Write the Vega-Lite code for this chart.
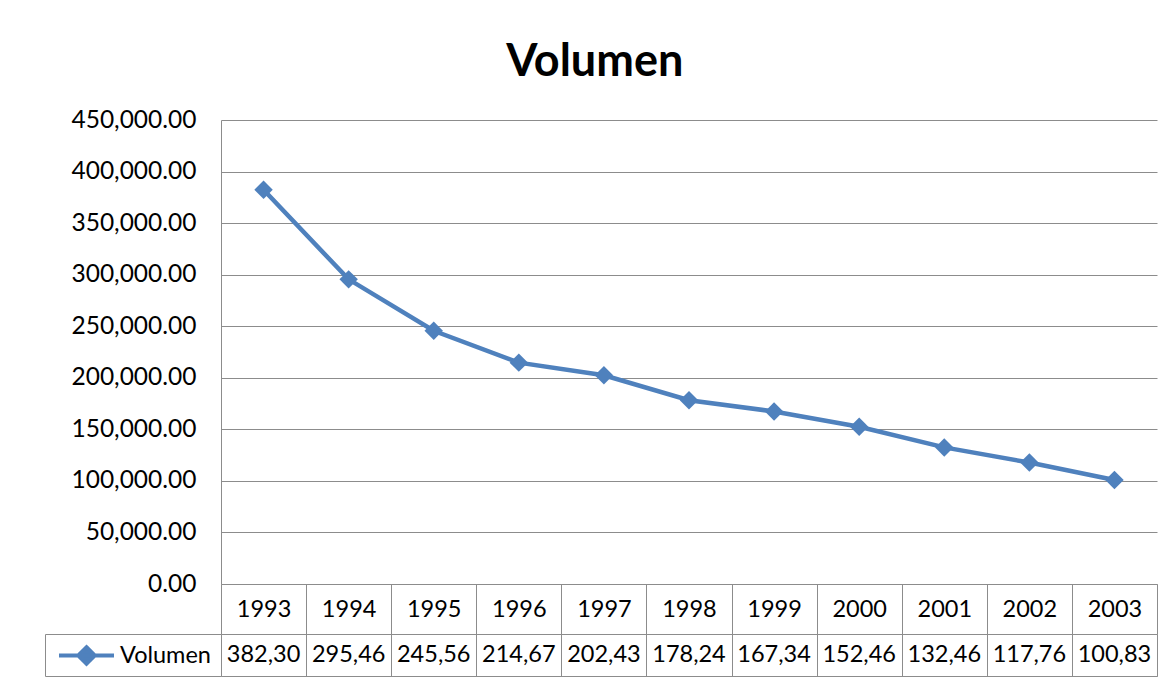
{
  "$schema": "https://vega.github.io/schema/vega-lite/v6.json",
  "background": "white",
  "padding": {"left": 44, "top": 40, "right": 5, "bottom": 5},
  "title": {"text": "Volumen", "font": "Lato", "fontSize": 45, "fontWeight": "bold", "color": "#000000", "anchor": "middle", "dx": -6, "offset": 22},
  "config": {"font": "Lato", "view": {"stroke": null}},
  "datasets": {
    "vol": [
      {"anio": "1993", "volumen": 382300, "tabla": "382,30"},
      {"anio": "1994", "volumen": 295460, "tabla": "295,46"},
      {"anio": "1995", "volumen": 245560, "tabla": "245,56"},
      {"anio": "1996", "volumen": 214670, "tabla": "214,67"},
      {"anio": "1997", "volumen": 202430, "tabla": "202,43"},
      {"anio": "1998", "volumen": 178240, "tabla": "178,24"},
      {"anio": "1999", "volumen": 167340, "tabla": "167,34"},
      {"anio": "2000", "volumen": 152460, "tabla": "152,46"},
      {"anio": "2001", "volumen": 132460, "tabla": "132,46"},
      {"anio": "2002", "volumen": 117760, "tabla": "117,76"},
      {"anio": "2003", "volumen": 100830, "tabla": "100,83"}
    ]
  },
  "bounds": "flush",
  "spacing": 50,
  "resolve": {"scale": {"color": "independent", "x": "independent", "y": "independent"}, "legend": {"color": "independent"}},
  "vconcat": [
    {
      "width": 936,
      "height": 464,
      "data": {"name": "vol"},
      "encoding": {
        "x": {
          "field": "anio", "type": "ordinal",
          "scale": {"type": "band", "paddingInner": 0, "paddingOuter": 0},
          "axis": {"title": null, "labelAngle": 0, "labelFont": "Lato", "labelFontSize": 23.5, "labelColor": "#000000", "labelBaseline": "middle", "labelPadding": -25, "tickBand": "extent", "tickSize": 50, "tickColor": "#8c8c8c", "tickWidth": 1, "domainColor": "#8c8c8c", "domainWidth": 1}
        },
        "y": {
          "field": "volumen", "type": "quantitative",
          "scale": {"domain": [0, 450000], "nice": false, "zero": true},
          "axis": {"title": null, "values": [0, 50000, 100000, 150000, 200000, 250000, 300000, 350000, 400000, 450000], "format": ",.2f", "grid": true, "gridColor": "#8c8c8c", "gridWidth": 1, "gridOpacity": 1, "ticks": false, "labelPadding": 25, "labelFont": "Lato", "labelFontSize": 24.5, "labelColor": "#000000", "domainColor": "#8c8c8c", "domainWidth": 1}
        },
        "color": {
          "datum": "Volumen", "type": "nominal",
          "scale": {"range": ["#4F81BD"]},
          "legend": {"orient": "none", "legendX": -164, "legendY": 506, "title": null, "symbolType": "M-1,0L1,0M0,-0.3L0.3,0L0,0.3L-0.3,0Z", "symbolSize": 3025, "symbolStrokeWidth": 4, "symbolFillColor": "#4F81BD", "symbolStrokeColor": "#4F81BD", "symbolOpacity": 1, "labelFont": "Lato", "labelFontSize": 23.5, "labelColor": "#000000", "labelOffset": 4, "padding": 0}
        }
      },
      "layer": [
        {"mark": {"type": "line", "strokeWidth": 4.5}},
        {"mark": {"type": "point", "shape": "diamond", "filled": true, "size": 340, "opacity": 1}}
      ]
    },
    {
      "width": 936,
      "height": 42,
      "data": {"name": "vol"},
      "view": {"stroke": "#8c8c8c", "strokeWidth": 1},
      "mark": {"type": "text", "fontSize": 23.5, "font": "Lato", "color": "#000000"},
      "encoding": {
        "x": {
          "field": "anio", "type": "ordinal",
          "scale": {"type": "band", "paddingInner": 0, "paddingOuter": 0},
          "axis": {"title": null, "orient": "top", "labels": false, "ticks": false, "domain": false, "grid": true, "tickBand": "extent", "gridColor": "#8c8c8c", "gridWidth": 1, "gridOpacity": 1}
        },
        "y": {
          "datum": "Volumen", "type": "nominal",
          "scale": {"type": "band", "paddingInner": 0, "paddingOuter": 0},
          "axis": {"title": null, "labels": false, "offset": 176, "domainColor": "#8c8c8c", "domainWidth": 1, "ticks": true, "tickSize": -176, "tickBand": "extent", "tickColor": "#8c8c8c", "tickWidth": 1}
        },
        "text": {"field": "tabla"}
      }
    }
  ]
}
